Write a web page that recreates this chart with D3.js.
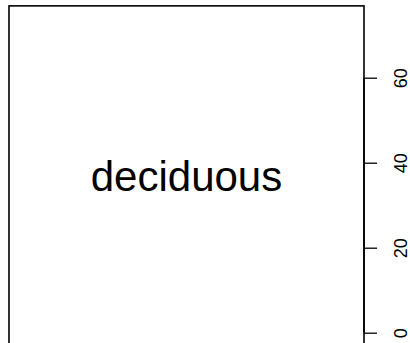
<!DOCTYPE html>
<html><head><meta charset="utf-8">
<script src="https://cdn.jsdelivr.net/npm/d3@7"></script>
<style>html,body{margin:0;padding:0;background:#fff;overflow:hidden}</style>
</head><body>
<svg id="c" width="410" height="343"></svg>
<script>
const panelLabel = ["deciduous"];
const yTicks = [0, 20, 40, 60];
const yDomain = [-3.6, 76.9];

const svg = d3.select("#c");
const W = 410, H = 343;
const left = 9, right = 364;
const y = d3.scaleLinear().domain([0, 60]).range([332.7, 77.7]);

// panel box
svg.append("rect")
  .attr("x", left).attr("y", y(yDomain[1]))
  .attr("width", right - left).attr("height", y(yDomain[0]) - y(yDomain[1]))
  .attr("fill", "none").attr("stroke", "#000").attr("stroke-width", 1.6);

// right axis
const ax = svg.append("g").attr("transform", `translate(${right},0)`)
  .call(d3.axisRight(y).tickValues(yTicks).tickSize(13).tickSizeOuter(0).tickFormat(d3.format("d")));
ax.select(".domain").attr("stroke", "#000").attr("stroke-width", 1.6)
  .attr("d", `M0,${y(0)}V${y(60)}`);
ax.selectAll(".tick line").attr("stroke", "#000").attr("stroke-width", 1.3);
ax.selectAll(".tick text")
  .attr("x", 0).attr("y", 0).attr("dy", null)
  .attr("transform", "translate(42.5,0) rotate(-90)")
  .attr("text-anchor", "middle")
  .attr("font-family", "Liberation Sans, Arial, sans-serif")
  .attr("font-size", 18).attr("fill", "#000");

// diagonal label
svg.append("text")
  .attr("x", (left + right) / 2).attr("y", 191)
  .attr("text-anchor", "middle")
  .attr("font-family", "Liberation Sans, Arial, sans-serif")
  .attr("font-size", 42).attr("fill", "#000")
  .text(panelLabel[0]);
</script>
</body></html>
